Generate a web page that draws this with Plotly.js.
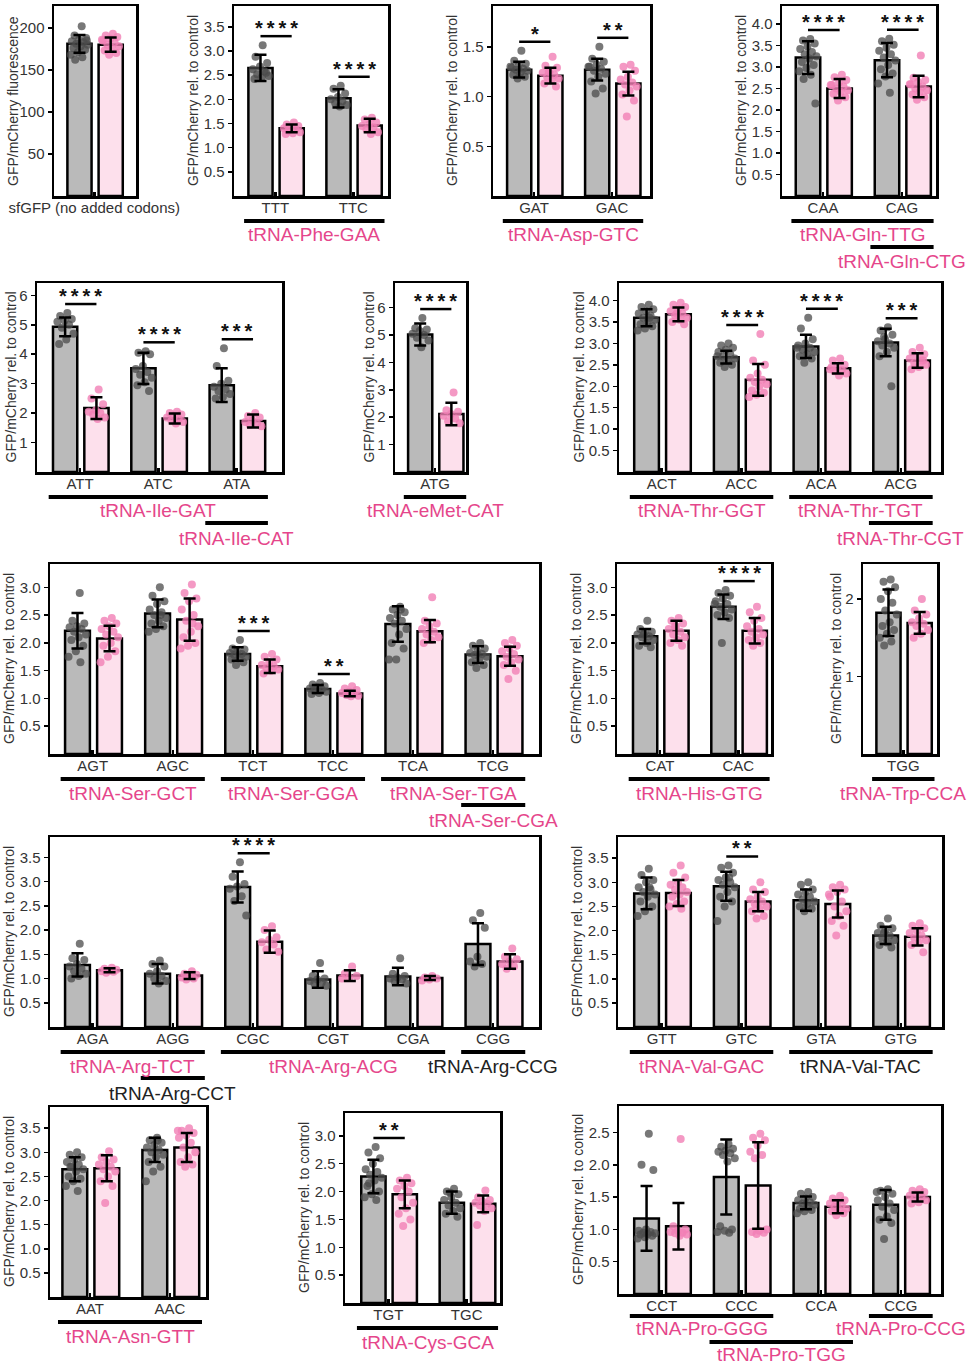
<!DOCTYPE html>
<html>
<head>
<meta charset="utf-8">
<script src="https://cdn.plot.ly/plotly-3.0.1.min.js"></script>
<style>
  html, body { margin: 0; padding: 0; background: #ffffff; }
  #chart { width: 974px; height: 1367px; }
</style>
</head>
<body>
<div id="chart"></div>
<script>
// ===== Measured GFP/mCherry ratios: control (grey) vs tRNA-overexpression (pink) =====

// sfGFP reporter without added codons
const sfgfpCodons = ['sfGFP (no added codons)'];
const sfgfpCtrl = [181];
const sfgfpCtrlSd = [10.5];
const sfgfpTrna = [180];
const sfgfpTrnaSd = [8.5];
const sfgfpCtrlPts = [[202, 191, 188, 186, 184, 183, 181, 180, 178, 176, 174, 171, 168, 165, 162, 185]];
const sfgfpTrnaPts = [[193, 191, 189, 187, 185, 183, 180, 178, 176, 173, 170, 168, 186]];
const sfgfpStars = [''];
const sfgfpGroups = [];
const sfgfpGroupCodons = [];

// Phe
const pheCodons = ['TTT', 'TTC'];
const pheCtrl = [2.65, 2.02];
const pheCtrlSd = [0.27, 0.19];
const pheTrna = [1.40, 1.46];
const pheTrnaSd = [0.08, 0.14];
const pheCtrlPts = [[3.12, 2.88, 2.75, 2.68, 2.62, 2.58, 2.52, 2.48, 2.45, 2.42, 2.55],
                    [2.28, 2.22, 2.12, 2.05, 2.0, 1.96, 1.92, 1.88, 1.85]];
const pheTrnaPts = [[1.52, 1.48, 1.45, 1.42, 1.4, 1.38, 1.35, 1.32, 1.3, 1.28],
                    [1.62, 1.58, 1.52, 1.48, 1.45, 1.42, 1.38, 1.32, 1.28]];
const pheStars = ['****', '****'];
const pheGroups = ['tRNA-Phe-GAA'];
const pheGroupCodons = [['TTT', 'TTC']];

// Asp
const aspCodons = ['GAT', 'GAC'];
const aspCtrl = [1.27, 1.27];
const aspCtrlSd = [0.08, 0.11];
const aspTrna = [1.21, 1.13];
const aspTrnaSd = [0.08, 0.12];
const aspCtrlPts = [[1.46, 1.36, 1.33, 1.31, 1.29, 1.28, 1.27, 1.26, 1.24, 1.22, 1.2, 1.18, 1.3],
                    [1.5, 1.38, 1.35, 1.32, 1.3, 1.28, 1.26, 1.23, 1.2, 1.15, 1.08, 1.03, 1.3]];
const aspTrnaPts = [[1.4, 1.31, 1.29, 1.26, 1.24, 1.22, 1.2, 1.18, 1.16, 1.13, 1.1, 1.25],
                    [1.32, 1.3, 1.26, 1.2, 1.17, 1.14, 1.12, 1.1, 1.06, 1.02, 0.96, 0.8]];
const aspStars = ['*', '**'];
const aspGroups = ['tRNA-Asp-GTC'];
const aspGroupCodons = [['GAT', 'GAC']];

// Gln
const glnCodons = ['CAA', 'CAG'];
const glnCtrl = [3.22, 3.16];
const glnCtrlSd = [0.38, 0.40];
const glnTrna = [2.50, 2.55];
const glnTrnaSd = [0.22, 0.25];
const glnCtrlPts = [[3.65, 3.62, 3.55, 3.48, 3.42, 3.35, 3.3, 3.25, 3.2, 3.12, 3.05, 2.98, 2.9, 2.82, 2.72, 2.15],
                    [3.66, 3.6, 3.52, 3.45, 3.38, 3.3, 3.22, 3.15, 3.05, 2.95, 2.85, 2.78, 2.62, 2.4]];
const glnTrnaPts = [[2.82, 2.76, 2.7, 2.64, 2.58, 2.55, 2.5, 2.46, 2.42, 2.38, 2.3, 2.22, 2.58],
                    [3.27, 2.75, 2.7, 2.65, 2.6, 2.55, 2.5, 2.46, 2.42, 2.36, 2.3, 2.24, 2.6]];
const glnStars = ['****', '****'];
const glnGroups = ['tRNA-Gln-TTG', 'tRNA-Gln-CTG'];
const glnGroupCodons = [['CAA', 'CAG'], ['CAG']];

// Ile
const ileCodons = ['ATT', 'ATC', 'ATA'];
const ileCtrl = [4.93, 3.52, 2.95];
const ileCtrlSd = [0.32, 0.53, 0.57];
const ileTrna = [2.17, 1.82, 1.73];
const ileTrnaSd = [0.37, 0.17, 0.22];
const ileCtrlPts = [[5.4, 5.3, 5.2, 5.15, 5.1, 5.0, 4.9, 4.7, 4.5, 4.35],
                    [4.1, 4.05, 4.0, 3.6, 3.5, 3.4, 3.3, 3.2, 3.05, 2.95, 2.75],
                    [4.2, 3.6, 3.1, 3.0, 2.9, 2.8, 2.75, 2.65, 2.55, 2.5]];
const ileTrnaPts = [[2.8, 2.5, 2.3, 2.1, 2.05, 2.0, 1.95, 1.85, 1.8],
                    [2.05, 2.0, 1.95, 1.9, 1.85, 1.8, 1.75, 1.7, 1.65],
                    [2.0, 1.9, 1.85, 1.75, 1.7, 1.65, 1.6, 1.55]];
const ileStars = ['****', '****', '***'];
const ileGroups = ['tRNA-Ile-GAT', 'tRNA-Ile-CAT'];
const ileGroupCodons = [['ATT', 'ATC', 'ATA'], ['ATA']];

// eMet
const emetCodons = ['ATG'];
const emetCtrl = [5.02];
const emetCtrlSd = [0.40];
const emetTrna = [2.12];
const emetTrnaSd = [0.41];
const emetCtrlPts = [[5.62, 5.25, 5.2, 5.15, 5.05, 5.0, 4.9, 4.8, 4.55]];
const emetTrnaPts = [[2.9, 2.25, 2.2, 2.12, 2.05, 1.95, 1.85, 1.78]];
const emetStars = ['****'];
const emetGroups = ['tRNA-eMet-CAT'];
const emetGroupCodons = [['ATG']];

// Thr
const thrCodons = ['ACT', 'ACC', 'ACA', 'ACG'];
const thrCtrl = [3.60, 2.68, 2.93, 3.02];
const thrCtrlSd = [0.20, 0.15, 0.27, 0.32];
const thrTrna = [3.68, 2.15, 2.42, 2.60];
const thrTrnaSd = [0.16, 0.37, 0.12, 0.17];
const thrCtrlPts = [[3.9, 3.85, 3.8, 3.75, 3.7, 3.65, 3.6, 3.55, 3.5, 3.45, 3.4, 3.35, 3.3, 3.6],
                    [3.0, 2.95, 2.9, 2.85, 2.8, 2.75, 2.7, 2.65, 2.6, 2.55, 2.5, 2.45, 2.7],
                    [3.6, 3.35, 3.1, 3.0, 2.95, 2.9, 2.85, 2.8, 2.75, 2.7, 2.65, 2.55, 2.9],
                    [3.38, 3.3, 3.2, 3.1, 3.05, 3.0, 2.95, 2.9, 2.8, 2.7, 2.0, 3.15]];
const thrTrnaPts = [[3.95, 3.9, 3.85, 3.8, 3.75, 3.7, 3.65, 3.6, 3.55, 3.5, 3.45, 3.7],
                    [3.22, 2.6, 2.5, 2.3, 2.2, 2.15, 2.1, 2.05, 2.0, 1.9, 1.85, 1.8, 1.75],
                    [2.65, 2.6, 2.5, 2.45, 2.4, 2.38, 2.35, 2.3, 2.25, 2.45],
                    [2.9, 2.8, 2.75, 2.7, 2.65, 2.6, 2.55, 2.5, 2.45, 2.4, 2.6]];
const thrStars = ['', '****', '****', '***'];
const thrGroups = ['tRNA-Thr-GGT', 'tRNA-Thr-TGT', 'tRNA-Thr-CGT'];
const thrGroupCodons = [['ACT', 'ACC'], ['ACA', 'ACG'], ['ACG']];

// Ser
const serCodons = ['AGT', 'AGC', 'TCT', 'TCC', 'TCA', 'TCG'];
const serCtrl = [2.22, 2.53, 1.80, 1.17, 2.34, 1.79];
const serCtrlSd = [0.32, 0.25, 0.12, 0.07, 0.32, 0.15];
const serTrna = [2.08, 2.42, 1.58, 1.09, 2.21, 1.76];
const serTrnaSd = [0.23, 0.38, 0.12, 0.05, 0.20, 0.17];
const serCtrlPts = [[2.9, 2.4, 2.35, 2.3, 2.28, 2.25, 2.2, 2.15, 2.1, 2.05, 1.95, 1.85, 1.75, 1.65],
                    [3.0, 2.85, 2.75, 2.7, 2.6, 2.55, 2.5, 2.45, 2.4, 2.35, 2.3, 2.25, 2.2, 2.5],
                    [2.05, 1.9, 1.88, 1.85, 1.82, 1.8, 1.78, 1.75, 1.72, 1.7, 1.65, 1.6],
                    [1.28, 1.25, 1.22, 1.2, 1.18, 1.16, 1.14, 1.12, 1.1, 1.08],
                    [2.65, 2.6, 2.55, 2.5, 2.45, 2.4, 2.35, 2.25, 2.15, 2.0, 1.9, 1.7, 1.7, 2.6],
                    [2.0, 1.95, 1.9, 1.85, 1.82, 1.8, 1.78, 1.75, 1.7, 1.65, 1.6, 1.55]];
const serTrnaPts = [[2.45, 2.4, 2.35, 2.3, 2.25, 2.2, 2.15, 2.1, 2.0, 1.95, 1.85, 1.75, 1.65],
                    [3.05, 2.9, 2.8, 2.75, 2.6, 2.5, 2.4, 2.3, 2.2, 2.1, 2.0, 1.95, 1.9, 2.35],
                    [1.8, 1.75, 1.7, 1.65, 1.6, 1.58, 1.55, 1.52, 1.5, 1.45],
                    [1.22, 1.18, 1.15, 1.12, 1.1, 1.08, 1.06, 1.05, 1.04],
                    [2.82, 2.4, 2.35, 2.3, 2.25, 2.2, 2.15, 2.1, 2.05, 2.0],
                    [2.05, 2.0, 1.95, 1.9, 1.85, 1.8, 1.75, 1.7, 1.65, 1.6, 1.5, 1.35]];
const serStars = ['', '', '***', '**', '', ''];
const serGroups = ['tRNA-Ser-GCT', 'tRNA-Ser-GGA', 'tRNA-Ser-TGA', 'tRNA-Ser-CGA'];
const serGroupCodons = [['AGT', 'AGC'], ['TCT', 'TCC'], ['TCA', 'TCG'], ['TCG']];

// His
const hisCodons = ['CAT', 'CAC'];
const hisCtrl = [2.12, 2.65];
const hisCtrlSd = [0.13, 0.22];
const hisTrna = [2.22, 2.22];
const hisTrnaSd = [0.18, 0.23];
const hisCtrlPts = [[2.4, 2.25, 2.2, 2.18, 2.15, 2.12, 2.1, 2.05, 2.0, 1.95, 1.92, 2.15],
                    [2.95, 2.9, 2.85, 2.8, 2.75, 2.7, 2.65, 2.6, 2.55, 2.5, 2.45, 2.0, 2.7]];
const hisTrnaPts = [[2.45, 2.4, 2.35, 2.3, 2.25, 2.2, 2.15, 2.1, 2.05, 2.0, 1.95, 2.3],
                    [2.65, 2.55, 2.45, 2.4, 2.3, 2.25, 2.2, 2.15, 2.1, 2.05, 2.0, 1.95]];
const hisStars = ['', '****'];
const hisGroups = ['tRNA-His-GTG'];
const hisGroupCodons = [['CAT', 'CAC']];

// Trp
const trpCodons = ['TGG'];
const trpCtrl = [1.82];
const trpCtrlSd = [0.30];
const trpTrna = [1.69];
const trpTrnaSd = [0.14];
const trpCtrlPts = [[2.25, 2.22, 2.15, 2.1, 2.0, 1.95, 1.85, 1.8, 1.7, 1.65, 1.6, 1.55, 1.5, 1.45, 1.4]];
const trpTrnaPts = [[2.0, 1.85, 1.8, 1.75, 1.7, 1.68, 1.65, 1.6, 1.55, 1.5]];
const trpStars = [''];
const trpGroups = ['tRNA-Trp-CCA'];
const trpGroupCodons = [['TGG']];

// Arg
const argCodons = ['AGA', 'AGG', 'CGC', 'CGT', 'CGA', 'CGG'];
const argCtrl = [1.28, 1.10, 2.89, 0.98, 1.04, 1.71];
const argCtrlSd = [0.24, 0.20, 0.32, 0.17, 0.18, 0.43];
const argTrna = [1.17, 1.06, 1.76, 1.06, 1.01, 1.35];
const argTrnaSd = [0.04, 0.07, 0.23, 0.11, 0.04, 0.15];
const argCtrlPts = [[1.72, 1.42, 1.38, 1.3, 1.25, 1.2, 1.15, 1.1, 1.05, 1.0],
                    [1.37, 1.3, 1.25, 1.15, 1.1, 1.05, 1.0, 0.95, 0.9],
                    [3.4, 3.1, 2.95, 2.9, 2.85, 2.7, 2.6, 2.3],
                    [1.32, 1.05, 1.0, 0.98, 0.95, 0.92, 0.9, 0.85],
                    [1.42, 1.1, 1.05, 1.02, 1.0, 0.98, 0.95, 0.9],
                    [2.35, 2.2, 2.05, 1.45, 1.35, 1.3, 1.25]];
const argTrnaPts = [[1.22, 1.2, 1.18, 1.16, 1.15, 1.14, 1.12],
                    [1.15, 1.1, 1.08, 1.05, 1.02, 1.0, 0.98],
                    [2.08, 2.0, 1.85, 1.8, 1.75, 1.7, 1.6, 1.55],
                    [1.25, 1.1, 1.05, 1.02, 1.0],
                    [1.05, 1.02, 1.0, 0.98, 0.96],
                    [1.62, 1.45, 1.4, 1.35, 1.3, 1.25, 1.2]];
const argStars = ['', '', '****', '', '', ''];
const argGroups = ['tRNA-Arg-TCT', 'tRNA-Arg-CCT', 'tRNA-Arg-ACG', 'tRNA-Arg-CCG'];
const argGroupCodons = [['AGA', 'AGG'], ['AGG'], ['CGC', 'CGT', 'CGA'], ['CGG']];

// Val
const valCodons = ['GTT', 'GTC', 'GTA', 'GTG'];
const valCtrl = [2.77, 2.92, 2.63, 1.90];
const valCtrlSd = [0.33, 0.30, 0.22, 0.18];
const valTrna = [2.78, 2.60, 2.55, 1.87];
const valTrnaSd = [0.27, 0.20, 0.28, 0.18];
const valCtrlPts = [[3.28, 3.15, 3.05, 3.0, 2.9, 2.85, 2.8, 2.75, 2.7, 2.6, 2.5, 2.4, 2.3, 2.9],
                    [3.35, 3.3, 3.2, 3.1, 3.05, 3.0, 2.95, 2.9, 2.8, 2.7, 2.6, 2.5, 2.2, 3.1],
                    [3.0, 2.95, 2.85, 2.8, 2.75, 2.7, 2.65, 2.6, 2.55, 2.5, 2.45, 2.4],
                    [2.25, 2.1, 2.05, 2.0, 1.95, 1.9, 1.85, 1.8, 1.75, 1.7, 1.65, 1.95]];
const valTrnaPts = [[3.35, 3.2, 3.1, 3.0, 2.95, 2.9, 2.85, 2.8, 2.75, 2.7, 2.6, 2.55, 2.5, 2.45],
                    [3.0, 2.85, 2.8, 2.7, 2.65, 2.6, 2.55, 2.5, 2.45, 2.4, 2.3, 2.25],
                    [2.95, 2.9, 2.85, 2.8, 2.7, 2.6, 2.5, 2.4, 2.3, 2.2, 2.1, 1.9, 2.75],
                    [2.15, 2.1, 2.05, 2.0, 1.95, 1.9, 1.85, 1.8, 1.75, 1.7, 1.55]];
const valStars = ['', '**', '', ''];
const valGroups = ['tRNA-Val-GAC', 'tRNA-Val-TAC'];
const valGroupCodons = [['GTT', 'GTC'], ['GTA', 'GTG']];

// Asn
const asnCodons = ['AAT', 'AAC'];
const asnCtrl = [2.65, 3.05];
const asnCtrlSd = [0.25, 0.25];
const asnTrna = [2.67, 3.10];
const asnTrnaSd = [0.27, 0.30];
const asnCtrlPts = [[3.0, 2.95, 2.9, 2.85, 2.8, 2.75, 2.7, 2.65, 2.6, 2.5, 2.45, 2.4, 2.3, 2.2, 2.7],
                    [3.3, 3.25, 3.2, 3.15, 3.1, 3.05, 3.0, 2.95, 2.9, 2.8, 2.7, 2.6, 2.4, 3.25]];
const asnTrnaPts = [[3.02, 2.9, 2.85, 2.8, 2.75, 2.7, 2.65, 2.6, 2.5, 2.4, 2.3, 1.95],
                    [3.5, 3.45, 3.4, 3.35, 3.3, 3.2, 3.1, 3.0, 2.9, 2.8, 2.75, 2.7, 3.45]];
const asnStars = ['', ''];
const asnGroups = ['tRNA-Asn-GTT'];
const asnGroupCodons = [['AAT', 'AAC']];

// Cys
const cysCodons = ['TGT', 'TGC'];
const cysCtrl = [2.27, 1.80];
const cysCtrlSd = [0.30, 0.20];
const cysTrna = [1.95, 1.78];
const cysTrnaSd = [0.25, 0.15];
const cysCtrlPts = [[2.8, 2.7, 2.6, 2.5, 2.4, 2.35, 2.3, 2.25, 2.2, 2.1, 2.0, 1.95, 1.9, 1.85, 2.15],
                    [2.05, 2.0, 1.95, 1.9, 1.85, 1.8, 1.75, 1.7, 1.65, 1.6, 1.55, 1.98]];
const cysTrnaPts = [[2.25, 2.2, 2.15, 2.1, 2.05, 2.0, 1.9, 1.8, 1.7, 1.6, 1.5, 1.38],
                    [2.02, 1.9, 1.85, 1.82, 1.8, 1.78, 1.75, 1.7, 1.65, 1.4]];
const cysStars = ['**', ''];
const cysGroups = ['tRNA-Cys-GCA'];
const cysGroupCodons = [['TGT', 'TGC']];

// Pro
const proCodons = ['CCT', 'CCC', 'CCA', 'CCG'];
const proCtrl = [1.17, 1.81, 1.41, 1.38];
const proCtrlSd = [0.50, 0.58, 0.10, 0.23];
const proTrna = [1.05, 1.68, 1.35, 1.50];
const proTrnaSd = [0.36, 0.67, 0.10, 0.07];
const proCtrlPts = [[2.48, 2.0, 1.92, 1.0, 0.98, 0.96, 0.95, 0.94, 0.93, 0.92, 0.9, 0.88, 0.86],
                    [2.32, 2.28, 2.25, 2.22, 2.2, 2.18, 2.15, 2.1, 2.05, 1.05, 1.0, 0.98, 0.96, 0.95],
                    [1.58, 1.55, 1.5, 1.48, 1.45, 1.42, 1.4, 1.38, 1.35, 1.32, 1.3, 1.28, 1.25],
                    [1.62, 1.6, 1.55, 1.5, 1.45, 1.4, 1.35, 1.3, 1.2, 1.15, 1.1, 0.85, 1.58]];
const proTrnaPts = [[2.4, 1.05, 1.0, 0.98, 0.96, 0.95, 0.94, 0.92, 0.9],
                    [2.48, 2.42, 2.38, 2.3, 2.2, 2.15, 2.1, 1.0, 0.98, 0.96, 0.95, 0.93],
                    [1.52, 1.48, 1.45, 1.42, 1.4, 1.38, 1.35, 1.32, 1.3, 1.28, 1.25, 1.22],
                    [1.62, 1.6, 1.58, 1.55, 1.52, 1.5, 1.48, 1.45, 1.42, 1.4]];
const proStars = ['', '', '', ''];
const proGroups = ['tRNA-Pro-GGG', 'tRNA-Pro-TGG', 'tRNA-Pro-CCG'];
const proGroupCodons = [['CCT', 'CCC'], ['CCC', 'CCA'], ['CCG']];

// ===== Styling and page geometry =====
const W = 974, H = 1367;
const FONT = 'Liberation Sans, Arial, Helvetica, sans-serif';
const TEXT = '#333333';
const PINK_TEXT = '#e5468b';
const GREY_FILL = '#bababa';
const PINK_FILL = '#fde0ec';
const GREY_DOT = 'rgba(75,75,75,0.75)';
const PINK_DOT = 'rgba(241,128,181,0.8)';
const CTRL_OFF = -0.19, TRNA_OFF = 0.21, BAR_W = 0.31;
const REL = 'GFP/mCherry rel. to control';
const BRACKET_PAD = 9;  // px between the highest mark and a significance bracket
// vertical offsets below the frame: [row-0 bar, row-0 name, row-1 bar, row-1 name]
const GROUP_GAPS = [25, 39, 51, 66];
const TIGHT_GAPS = [22, 34, 48, 60];

function pack(codons, ctrl, ctrlSd, trna, trnaSd, ctrlPts, trnaPts, stars, groups, groupCodons) {
  return { codons, ctrl, ctrlSd, trna, trnaSd, ctrlPts, trnaPts, stars, groups, groupCodons };
}

// box: [left, right, top, bottom] in page pixels; c0: pixel of first codon; sp: pixels per codon step
const panels = [
  { d: pack(sfgfpCodons, sfgfpCtrl, sfgfpCtrlSd, sfgfpTrna, sfgfpTrnaSd, sfgfpCtrlPts, sfgfpTrnaPts, sfgfpStars, sfgfpGroups, sfgfpGroupCodons),
    box: [54, 136, 6, 196], c0: 94.3, sp: 78, yMax: 226, dtick: 50, fmt: 'd', title: 'GFP/mCherry fluorescence', rows: [], inks: [] },
  { d: pack(pheCodons, pheCtrl, pheCtrlSd, pheTrna, pheTrnaSd, pheCtrlPts, pheTrnaPts, pheStars, pheGroups, pheGroupCodons),
    box: [234, 388, 6, 196], c0: 275.3, sp: 78, yMax: 3.93, dtick: 0.5, fmt: '.1f', title: REL, rows: [0], inks: ['pink'] },
  { d: pack(aspCodons, aspCtrl, aspCtrlSd, aspTrna, aspTrnaSd, aspCtrlPts, aspTrnaPts, aspStars, aspGroups, aspGroupCodons),
    box: [493, 650, 6, 196], c0: 534, sp: 78, yMax: 1.91, dtick: 0.5, fmt: '.1f', title: REL, rows: [0], inks: ['pink'] },
  { d: pack(glnCodons, glnCtrl, glnCtrlSd, glnTrna, glnTrnaSd, glnCtrlPts, glnTrnaPts, glnStars, glnGroups, glnGroupCodons),
    box: [782, 936, 6, 196], c0: 823, sp: 79, yMax: 4.42, dtick: 0.5, fmt: '.1f', title: REL, rows: [0, 1], inks: ['pink', 'pink'] },
  { d: pack(ileCodons, ileCtrl, ileCtrlSd, ileTrna, ileTrnaSd, ileCtrlPts, ileTrnaPts, ileStars, ileGroups, ileGroupCodons),
    box: [37, 282, 283, 472], c0: 80, sp: 78.3, yMax: 6.42, dtick: 1, fmt: 'd', title: REL, rows: [0, 1], inks: ['pink', 'pink'] },
  { d: pack(emetCodons, emetCtrl, emetCtrlSd, emetTrna, emetTrnaSd, emetCtrlPts, emetTrnaPts, emetStars, emetGroups, emetGroupCodons),
    box: [395, 466, 283, 472], c0: 435, sp: 78, yMax: 6.9, dtick: 1, fmt: 'd', title: REL, rows: [0], inks: ['pink'] },
  { d: pack(thrCodons, thrCtrl, thrCtrlSd, thrTrna, thrTrnaSd, thrCtrlPts, thrTrnaPts, thrStars, thrGroups, thrGroupCodons),
    box: [619, 941, 283, 472], c0: 661.7, sp: 79.7, yMax: 4.41, dtick: 0.5, fmt: '.1f', title: REL, rows: [0, 0, 1], inks: ['pink', 'pink', 'pink'] },
  { d: pack(serCodons, serCtrl, serCtrlSd, serTrna, serTrnaSd, serCtrlPts, serTrnaPts, serStars, serGroups, serGroupCodons),
    box: [50, 539, 564, 754], c0: 92.7, sp: 80.1, yMax: 3.42, dtick: 0.5, fmt: '.1f', title: REL, rows: [0, 0, 0, 1], inks: ['pink', 'pink', 'pink', 'pink'] },
  { d: pack(hisCodons, hisCtrl, hisCtrlSd, hisTrna, hisTrnaSd, hisCtrlPts, hisTrnaPts, hisStars, hisGroups, hisGroupCodons),
    box: [617, 771, 564, 754], c0: 660, sp: 78.3, yMax: 3.42, dtick: 0.5, fmt: '.1f', title: REL, rows: [0], inks: ['pink'] },
  { d: pack(trpCodons, trpCtrl, trpCtrlSd, trpTrna, trpTrnaSd, trpCtrlPts, trpTrnaPts, trpStars, trpGroups, trpGroupCodons),
    box: [863, 937, 564, 754], c0: 903.3, sp: 78, yMax: 2.45, dtick: 1, fmt: 'd', title: REL, rows: [0], inks: ['pink'] },
  { d: pack(argCodons, argCtrl, argCtrlSd, argTrna, argTrnaSd, argCtrlPts, argTrnaPts, argStars, argGroups, argGroupCodons),
    box: [50, 539, 837, 1027], c0: 92.7, sp: 80.1, yMax: 3.92, dtick: 0.5, fmt: '.1f', title: REL, rows: [0, 1, 0, 0], inks: ['pink', 'black', 'pink', 'black'] },
  { d: pack(valCodons, valCtrl, valCtrlSd, valTrna, valTrnaSd, valCtrlPts, valTrnaPts, valStars, valGroups, valGroupCodons),
    box: [618, 942, 837, 1027], c0: 661.7, sp: 79.7, yMax: 3.94, dtick: 0.5, fmt: '.1f', title: REL, rows: [0, 0], inks: ['pink', 'black'] },
  { d: pack(asnCodons, asnCtrl, asnCtrlSd, asnTrna, asnTrnaSd, asnCtrlPts, asnTrnaPts, asnStars, asnGroups, asnGroupCodons),
    box: [50, 206, 1107, 1297], c0: 90, sp: 80, yMax: 3.94, dtick: 0.5, fmt: '.1f', title: REL, rows: [0], inks: ['pink'] },
  { d: pack(cysCodons, cysCtrl, cysCtrlSd, cysTrna, cysTrnaSd, cysCtrlPts, cysTrnaPts, cysStars, cysGroups, cysGroupCodons),
    box: [345, 500, 1113, 1303], c0: 388.3, sp: 78.4, yMax: 3.41, dtick: 0.5, fmt: '.1f', title: REL, rows: [0], inks: ['pink'] },
  { d: pack(proCodons, proCtrl, proCtrlSd, proTrna, proTrnaSd, proCtrlPts, proTrnaPts, proStars, proGroups, proGroupCodons),
    box: [619, 941, 1106, 1294], c0: 661.7, sp: 79.7, yMax: 2.91, dtick: 0.5, fmt: '.1f', title: REL, rows: [0, 1, 0], inks: ['pink', 'pink', 'pink'], gaps: TIGHT_GAPS }
];

// deterministic horizontal spread for the individual replicate dots
const spread = j => ((((j + 1) * 0.6180339887) % 1) - 0.5) * 0.24;

const traces = [];
const layout = {
  width: W, height: H,
  margin: { l: 0, r: 0, t: 0, b: 0 },
  paper_bgcolor: '#ffffff', plot_bgcolor: '#ffffff',
  showlegend: false, barmode: 'overlay',
  font: { family: FONT, color: TEXT, size: 15 },
  shapes: [], annotations: []
};

panels.forEach((p, k) => {
  const n = k + 1;
  const sfx = n === 1 ? '' : String(n);
  const xa = 'x' + sfx, ya = 'y' + sfx;
  const D = p.d;
  const [bx0, bx1, by0, by1] = p.box;
  const gaps = p.gaps || GROUP_GAPS;
  const idx = D.codons.map((_, i) => i);
  const xCtrl = idx.map(i => i + CTRL_OFF);
  const xTrna = idx.map(i => i + TRNA_OFF);
  const pxPerUnit = (by1 - by0) / p.yMax;

  // bars
  traces.push({ type: 'bar', x: xCtrl, y: D.ctrl, width: BAR_W, xaxis: xa, yaxis: ya,
    marker: { color: GREY_FILL, line: { color: '#000', width: 2.5 } }, hoverinfo: 'skip' });
  traces.push({ type: 'bar', x: xTrna, y: D.trna, width: BAR_W, xaxis: xa, yaxis: ya,
    marker: { color: PINK_FILL, line: { color: '#000', width: 2.5 } }, hoverinfo: 'skip' });

  // replicate dots
  const dots = (pts, off, color) => {
    const xs = [], ys = [];
    pts.forEach((arr, i) => arr.forEach((v, j) => { xs.push(i + off + spread(j)); ys.push(v); }));
    traces.push({ type: 'scatter', mode: 'markers', x: xs, y: ys, xaxis: xa, yaxis: ya,
      marker: { size: 8, color: color }, hoverinfo: 'skip', cliponaxis: false });
  };
  dots(D.ctrlPts, CTRL_OFF, GREY_DOT);
  dots(D.trnaPts, TRNA_OFF, PINK_DOT);

  // error bars drawn on top of the dots
  traces.push({ type: 'scatter', mode: 'markers', x: xCtrl.concat(xTrna), y: D.ctrl.concat(D.trna),
    xaxis: xa, yaxis: ya, marker: { size: 2, color: 'rgba(0,0,0,0)' }, hoverinfo: 'skip',
    error_y: { type: 'data', array: D.ctrlSd.concat(D.trnaSd), color: '#000', thickness: 2.5, width: 6 } });

  // axes
  const tickvals = [];
  for (let m = 1; m * p.dtick <= p.yMax + 1e-9; m++) tickvals.push(+(m * p.dtick).toFixed(4));
  const tickLabel = v => p.fmt === 'd' ? String(v) : v.toFixed(1);
  layout['xaxis' + sfx] = {
    domain: [bx0 / W, bx1 / W], anchor: ya,
    range: [(bx0 - p.c0) / p.sp, (bx1 - p.c0) / p.sp],
    tickmode: 'array', tickvals: idx, ticktext: D.codons,
    ticks: 'inside', ticklen: 4, tickwidth: 2.5, tickcolor: '#000',
    tickfont: { size: 15, color: TEXT, family: FONT }, ticklabelstandoff: -4,
    showline: true, mirror: true, linewidth: 2.5, linecolor: '#000',
    showgrid: false, zeroline: false, fixedrange: true
  };
  layout['yaxis' + sfx] = {
    domain: [1 - by1 / H, 1 - by0 / H], anchor: xa,
    range: [0, p.yMax],
    tickmode: 'array', tickvals: tickvals, ticktext: tickvals.map(tickLabel),
    ticks: 'outside', ticklen: 4, tickwidth: 1.5, tickcolor: '#000',
    tickfont: { size: 15, color: TEXT, family: FONT },
    showline: true, mirror: true, linewidth: 2.5, linecolor: '#000',
    showgrid: false, zeroline: false, fixedrange: true
  };

  // y-axis title
  const labLen = Math.max(...tickvals.map(v => tickLabel(v).length));
  layout.annotations.push({
    xref: 'paper', yref: 'paper', x: (bx0 - (20 + 7 * labLen)) / W, y: 1 - (by0 + by1) / 2 / H,
    text: p.title, textangle: -90, showarrow: false, xanchor: 'center', yanchor: 'middle',
    font: { size: 14, color: TEXT, family: FONT }
  });

  // significance brackets
  D.stars.forEach((s, i) => {
    if (!s) return;
    const top = Math.max(Math.max(...D.ctrlPts[i]), Math.max(...D.trnaPts[i]),
                         D.ctrl[i] + D.ctrlSd[i], D.trna[i] + D.trnaSd[i]);
    const ly = top + BRACKET_PAD / pxPerUnit;
    layout.shapes.push({ type: 'line', xref: xa, yref: ya, x0: i + CTRL_OFF, x1: i + TRNA_OFF, y0: ly, y1: ly,
      line: { color: '#000', width: 2.5 } });
    layout.annotations.push({ xref: xa, yref: ya, x: i + (CTRL_OFF + TRNA_OFF) / 2, y: ly,
      text: s.split('').join('\u2009'), showarrow: false, xanchor: 'center', yanchor: 'bottom', yshift: -5,
      font: { size: 20, color: '#111', family: 'Liberation Sans, Arial, sans-serif', weight: 'bold' } });
  });

  // tRNA group bars and names beneath the codon labels
  D.groups.forEach((g, gi) => {
    const cods = D.groupCodons[gi];
    const first = D.codons.indexOf(cods[0]);
    const last = D.codons.indexOf(cods[cods.length - 1]);
    const xa0 = p.c0 + (first - 0.4) * p.sp;
    const xa1 = p.c0 + (last + 0.4) * p.sp;
    const row = p.rows[gi];
    const lineY = by1 + (row ? gaps[2] : gaps[0]);
    const textY = by1 + (row ? gaps[3] : gaps[1]);
    layout.shapes.push({ type: 'line', xref: 'paper', yref: 'paper',
      x0: xa0 / W, x1: xa1 / W, y0: 1 - lineY / H, y1: 1 - lineY / H, line: { color: '#000', width: 4 } });
    layout.annotations.push({ xref: 'paper', yref: 'paper', x: (xa0 + xa1) / 2 / W, y: 1 - textY / H,
      text: g, showarrow: false, xanchor: 'center', yanchor: 'middle',
      font: { size: 19, color: p.inks[gi] === 'pink' ? PINK_TEXT : '#222222', family: FONT } });
  });
});

Plotly.newPlot('chart', traces, layout, { staticPlot: true, displayModeBar: false });
</script>
</body>
</html>
